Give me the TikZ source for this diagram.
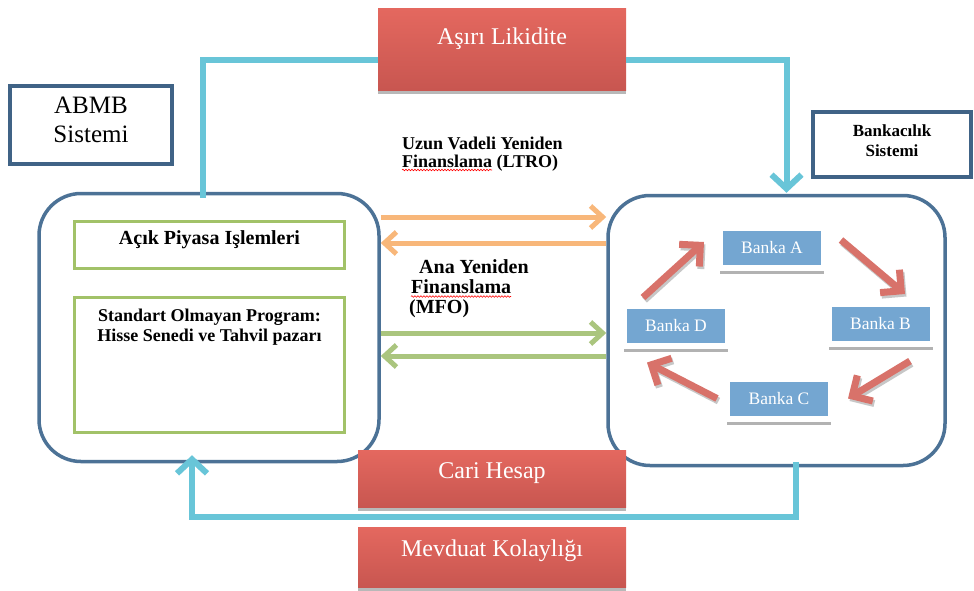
\documentclass[tikz,border=0pt]{standalone}
\usepackage{fontspec}
\setmainfont{Liberation Serif}
\usetikzlibrary{positioning,arrows.meta,shadows,decorations.pathmorphing}

\definecolor{frameBlue}{RGB}{64,99,134}
\definecolor{roundBlue}{RGB}{76,114,150}
\definecolor{boxGreen}{RGB}{162,194,104}
\definecolor{cyanLine}{RGB}{104,197,216}
\definecolor{ltroOrange}{RGB}{248,183,122}
\definecolor{mfoGreen}{RGB}{170,197,126}
\definecolor{bankBlue}{RGB}{116,166,209}
\definecolor{bankRed}{RGB}{216,114,106}
\definecolor{redTop}{RGB}{228,104,95}
\definecolor{redBottom}{RGB}{200,86,80}

\newcommand{\fsz}[2]{\fontsize{#1pt}{#2pt}\selectfont}

\begin{document}
\begin{tikzpicture}[
        x=1pt, y=-1pt,
        redBox/.style={rectangle, top color=redTop, bottom color=redBottom, draw=none, text=white,
            font=\fsz{24}{28}, minimum width=268pt, inner sep=0pt,
            drop shadow={shadow xshift=0pt, shadow yshift=-4pt, fill=black!28, opacity=1}},
        titleBox/.style={rectangle, draw=frameBlue, line width=4pt, fill=white},
        roundBox/.style={rectangle, draw=roundBlue, line width=3.5pt, rounded corners=42pt, fill=white},
        greenBox/.style={rectangle, draw=boxGreen, line width=3pt, fill=white, minimum width=270pt},
        bankNode/.style={rectangle, fill=bankBlue, draw=white, line width=6pt, text=white,
            font=\fsz{17.5}{20}, minimum width=104pt, minimum height=40pt, inner sep=0pt,
            drop shadow={shadow xshift=0pt, shadow yshift=-6pt, fill=black!30, opacity=1}},
        boldText/.style={inner sep=0pt, align=center, font=\bfseries\fsz{#1}{20}},
        boldText/.default=18,
        spellWave/.style={draw=red, line width=0.6pt,
            decorate, decoration={snake, amplitude=0.8pt, segment length=3pt}},
        cyanArrow/.style={draw=cyanLine, line width=6pt, line join=miter,
            -{Straight Barb[length=14pt,width=30pt]}},
        ltroArrow/.style={draw=ltroOrange, line width=5pt, -{Straight Barb[length=12pt,width=22pt]}},
        mfoArrow/.style={draw=mfoGreen, line width=5pt, -{Straight Barb[length=12pt,width=22pt]}},
        bankArrow/.style={draw=bankRed, line width=7pt, -{Straight Barb[length=15pt,width=30pt]},
            preaction={draw=black!22, line width=7pt, -{Straight Barb[length=15pt,width=30pt]},
                transform canvas={shift={(1.5pt,-2.5pt)}}}}
    ]
        \useasboundingbox (0,0) rectangle (974,590);

        % Systems
        \node[roundBox, minimum width=340pt, minimum height=268pt] (leftBox) at (209,327.5) {};
        \node[roundBox, minimum width=337pt, minimum height=270pt] (rightBox) at (776.5,330.5) {};

        \node[titleBox, minimum width=162pt, minimum height=78pt] (abmbBox) at (91,125) {};
        \node[below=12.5pt of abmbBox.north, align=center, inner sep=0pt, font=\fsz{25}{29}] (abmbText) {ABMB\\Sistemi};

        \node[titleBox, minimum width=158pt, minimum height=65pt] (bankSysBox) at (892,144.5) {};
        \node[boldText=17, below=14.5pt of bankSysBox.north] (bankSysText) {Bankacılık\\Sistemi};

        % ABMB instruments
        \node[greenBox, minimum height=47pt] (acikBox) at (209.5,245) {};
        \node[boldText=20, below=10pt of acikBox.north] (acikText) {Açık Piyasa Işlemleri};
        \node[greenBox, minimum height=135pt] (standartBox) at (209.5,365) {};
        \node[boldText=18, below=12.5pt of standartBox.north] (standartText) {Standart Olmayan Program:\\Hisse Senedi ve Tahvil pazarı};

        % Banks
        \node[bankNode] (bankA) at (772,247.5) {Banka A};
        \node[bankNode] (bankB) at (880.5,324) {Banka B};
        \node[bankNode] (bankC) at (779,398.5) {Banka C};
        \node[bankNode] (bankD) at (676,325.5) {Banka D};

        % Red labels
        \node[redBox, minimum width=248pt, anchor=north, text height=36pt, text depth=46pt] (likidite) at (502,8) {Aşırı Likidite};
        \node[redBox, anchor=north, text height=28pt, text depth=29pt] (cari) at (492,450) {Cari Hesap};
        \node[redBox, anchor=north, text height=29pt, text depth=31pt] (mevduat) at (492,527) {Mevduat Kolaylığı};

        % Liquidity flows
        \draw[cyanArrow, -] ([xshift=-6pt,yshift=-6pt]leftBox.north) |- ([yshift=-11pt]likidite.west);
        \draw[cyanArrow] ([yshift=-11pt]likidite.east) -| ([xshift=10pt,yshift=1pt]rightBox.north);
        \draw[cyanArrow] ([xshift=19.5pt,yshift=5pt]rightBox.south) |- ([yshift=10pt]mevduat.north)
            -| ([shift={(-17pt,8pt)}]leftBox.south);

        % Refinancing operations
        \node[anchor=north west, align=left, inner sep=0pt, font=\bfseries\fsz{18}{18}] (ltroText) at (402,137)
            {Uzun Vadeli Yeniden\\Finanslama (LTRO)};
        \node[anchor=north west, align=left, inner sep=0pt, font=\bfseries\fsz{20}{20}] (mfoText) at (409,259.5)
            {\hspace*{10pt}Ana Yeniden\\\hspace*{2pt}Finanslama\\(MFO)};
        \draw[spellWave] ([shift={(0,33)}]ltroText.north west) -- ++(90,0);
        \draw[spellWave] ([shift={(2,37)}]mfoText.north west) -- ++(100,0);

        \draw[ltroArrow] ([yshift=110.5pt]leftBox.east) -- ([yshift=110.5pt]leftBox.east -| rightBox.west);
        \draw[ltroArrow] ([yshift=84.5pt]leftBox.east -| rightBox.west) -- ([yshift=84.5pt]leftBox.east);
        \draw[mfoArrow] ([yshift=-5.5pt]leftBox.east) -- ([yshift=-5.5pt]leftBox.east -| rightBox.west);
        \draw[mfoArrow] ([yshift=-28.5pt]leftBox.east -| rightBox.west) -- ([yshift=-28.5pt]leftBox.east);

        % Interbank cycle
        \draw[bankArrow] ([shift={(14,-7.5)}]bankA.east) -- ([shift={(24.5,-7)}]bankB.north);
        \draw[bankArrow] ([shift={(29.5,14)}]bankB.south) -- ([shift={(14,0)}]bankC.east);
        \draw[bankArrow] ([shift={(-7,0)}]bankC.west) -- ([shift={(-29,14)}]bankD.south);
        \draw[bankArrow] ([shift={(-33,-5)}]bankD.north) -- ([shift={(-13,-5.5)}]bankA.west);
    \end{tikzpicture}
\end{document}
